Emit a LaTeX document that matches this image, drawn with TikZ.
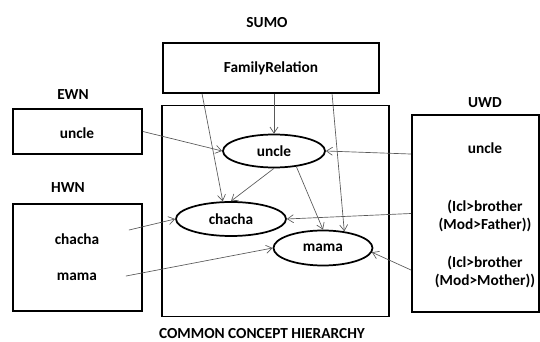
\documentclass[tikz,border=0pt]{standalone}
\usepackage{fontspec}
\setmainfont{Carlito}
\usetikzlibrary{arrows.meta,shapes.geometric,calc}
\begin{document}
\begin{tikzpicture}[x=0.75pt,y=-0.75pt,
  box/.style={draw, line width=1.4pt, inner sep=0pt},
  conc/.style={draw, ellipse, line width=1.3pt, inner sep=0pt},
  txt/.style={font=\bfseries\fontsize{11.5}{14}\selectfont, align=center, inner sep=0pt},
  link/.style={draw=black!65, line width=0.5pt, -{Straight Barb[length=4.5pt,width=6pt]}}]
\useasboundingbox (0,0) rectangle (540,342);
% boxes
\node[box, minimum width=162pt, minimum height=37.5pt] (fam) at (271,68) {};
\node[box, minimum width=170.25pt, minimum height=158.25pt] (cch) at (275.5,211) {};
\node[box, minimum width=96.75pt, minimum height=33.75pt] (ewn) at (77.5,131.5) {};
\node[box, minimum width=96.75pt, minimum height=80.25pt] (hwn) at (77.5,257.5) {};
\node[box, minimum width=95.25pt, minimum height=147.75pt] (uwd) at (475.5,213.5) {};
% labels
\node[txt] (lsumo) at (267,23) {SUMO};
\node[txt] (lewn) at (73,95) {EWN};
\node[txt] (lhwn) at (68,188) {HWN};
\node[txt] (luwd) at (485,103) {UWD};
\node[txt] (lcch) at (262,334) {COMMON CONCEPT HIERARCHY};
% box texts
\node[txt] (tfam) at (271,68) {FamilyRelation};
\node[txt] (tewn) at (77,133) {uncle};
\node[txt] (thch) at (77,239) {chacha};
\node[txt] (thmm) at (77,277) {mama};
\node[txt] (tuun) at (485,148) {uncle};
\node[txt] (tufa) at (485,216) {(Icl>brother\\(Mod>Father))};
\node[txt] (tumo) at (485,272) {(Icl>brother\\(Mod>Mother))};
% concepts
\node[conc, minimum width=76.5pt, minimum height=24.75pt, txt] (uncleE) at (274,151) {uncle};
\node[conc, minimum width=82.5pt, minimum height=25.5pt, txt] (chachaE) at (231,219) {chacha};
\node[conc, minimum width=74.25pt, minimum height=26.25pt, txt] (mamaE) at (323,248) {mama};
% links
\draw[link] ([xshift=30pt]fam.south west) -- (chachaE.115);
\draw[link] (fam.south -| uncleE.north) -- (uncleE.north);
\draw[link] ([xshift=127.5pt]fam.south west) -- (mamaE.38);
\draw[link] (ewn.east) -- (uncleE.west);
\draw[link] (uncleE.south) -- (chachaE.north);
\draw[link] (uncleE.-35) -- (mamaE.north);
\draw[link] ([yshift=44.6pt]uwd.west) -- (uncleE.east);
\draw[link] (uwd.west) -- (chachaE.east);
\draw[link] ([yshift=-42.4pt]uwd.west) -- (mamaE.-5);
\draw[link] ([xshift=-10.5pt,yshift=20.6pt]hwn.east) -- (chachaE.west);
\draw[link] ([xshift=-12.75pt,yshift=-13.9pt]hwn.east) -- (mamaE.west);
\end{tikzpicture}
\end{document}
